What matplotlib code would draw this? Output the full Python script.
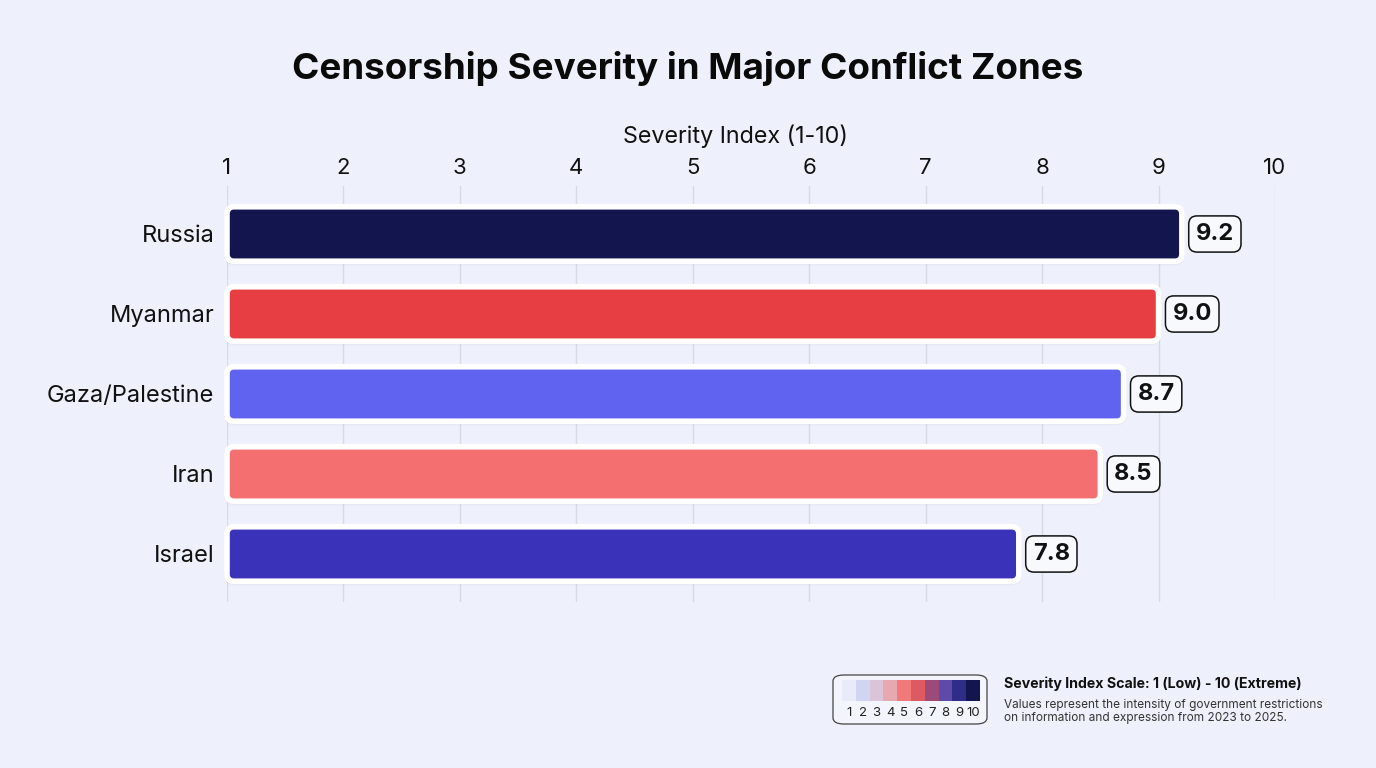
import matplotlib
matplotlib.use("Agg")
import matplotlib.pyplot as plt
from matplotlib.patches import FancyBboxPatch
from matplotlib.colors import to_rgb
import numpy as np

plt.rcParams['font.family'] = ['Inter', 'DejaVu Sans']

countries = ["Russia", "Myanmar", "Gaza/Palestine", "Iran", "Israel"]
values = [9.2, 9.0, 8.7, 8.5, 7.8]
bar_colors = ["#13154F", "#E63E42", "#6062F0", "#F47070", "#3A32B8"]
x_ticks = [1, 2, 3, 4, 5, 6, 7, 8, 9, 10]
scale_levels = [1, 2, 3, 4, 5, 6, 7, 8, 9, 10]
scale_colors = ["#E8ECF8", "#D0D6F2", "#DCC4D8", "#E8A8B0", "#F07A7A",
                "#DD5A62", "#9C4A78", "#5E4AA8", "#2E2E88", "#13154F"]

BG = "#EEF1FB"
W, H = 1376, 768
fig = plt.figure(figsize=(W / 100, H / 100), dpi=100, facecolor=BG)

ax = fig.add_axes([227 / W, 1 - 602 / H, (1275 - 227) / W, 416 / H])
ax.set_facecolor(BG)
ax.set_xlim(1, 10)
ax.set_ylim(len(countries) - 0.4, -0.6)
for s in ax.spines.values():
    s.set_visible(False)
ax.xaxis.tick_top()
ax.xaxis.set_label_position("top")
ax.set_xticks(x_ticks)
ax.set_xticklabels([str(t) for t in x_ticks], fontsize=16, color="#111111")
ax.tick_params(axis="x", length=0, pad=6)
ax.set_xlabel("Severity Index (1-10)", fontsize=16.8, color="#111111")
ax.xaxis.set_label_coords((735 - 227) / (1275 - 227), 1 + (602 - 136) / 416 - 1 + 0.0)
ax.xaxis.label.set_va("center")
ax.set_yticks(range(len(countries)))
ax.set_yticklabels(countries, fontsize=17, color="#111111")
ax.tick_params(axis="y", length=0, pad=9)
ax.grid(axis="x", color="#D6DAE6", linewidth=1.0)
ax.set_axisbelow(True)

fig.canvas.draw()
p0 = ax.transData.transform((1, 0))
p1 = ax.transData.transform((2, 1))
px_x = abs(p1[0] - p0[0])
px_y = abs(p1[1] - p0[1])
aspect = px_x / px_y

bh = 0.68
r = 7 / px_x
for i, (v, c) in enumerate(zip(values, bar_colors)):
    # soft shadow
    for k, a in [(0.06, 0.12), (0.035, 0.2)]:
        sh = FancyBboxPatch((1 - k * 0.4, i - bh / 2 - k * 0.2), v - 1 + k * 0.8, bh + k * 1.1,
                            boxstyle=f"round,pad=0,rounding_size={r * 1.5}",
                            mutation_aspect=aspect, facecolor="#B8BDD6", edgecolor="none",
                            alpha=a, zorder=2, clip_on=False)
        ax.add_patch(sh)
    p = FancyBboxPatch((1, i - bh / 2), v - 1, bh,
                       boxstyle=f"round,pad=0,rounding_size={r}",
                       mutation_aspect=aspect, facecolor=c, edgecolor="white",
                       linewidth=4, zorder=3, clip_on=False)
    ax.add_patch(p)
    ax.text(v + 0.12, i, f"{v:.1f}", fontsize=17, fontweight="bold", color="#111111",
            va="center", ha="left", zorder=4,
            bbox=dict(boxstyle="round,pad=0.3,rounding_size=0.35", facecolor="#F8F9FD",
                      edgecolor="#111111", linewidth=1.1))

fig.text(0.5, 1 - 69 / H, "Censorship Severity in Major Conflict Zones",
         fontsize=26.5, fontweight="bold", ha="center", va="center", color="#0A0A0A")

# Legend box
lb = FancyBboxPatch((833 / W, 1 - 724 / H), (987 - 833) / W, (724 - 675) / H,
                    boxstyle="round,pad=0,rounding_size=0.008",
                    transform=fig.transFigure, facecolor="#F3F5FC",
                    edgecolor="#444444", linewidth=0.9, zorder=0)
fig.patches.append(lb)
sw_ax = fig.add_axes([842 / W, 1 - 701 / H, (980 - 842) / W, 21 / H])
sw_ax.set_zorder(5)
sw_ax.imshow(np.array([[to_rgb(c) for c in scale_colors]]), aspect="auto",
             extent=(0.5, len(scale_levels) + 0.5, 0, 1))
sw_ax.set_axis_off()
for k, lv in enumerate(scale_levels):
    xc = (842 + (k + 0.5) * (980 - 842) / len(scale_levels)) / W
    fig.text(xc, 1 - 713.5 / H, str(lv), fontsize=9.5, ha="center", va="center", color="#222222")

fig.text(1004 / W, 1 - 684 / H, "Severity Index Scale: 1 (Low) - 10 (Extreme)",
         fontsize=10.2, fontweight="bold", ha="left", va="center", color="#111111")
fig.text(1004 / W, 1 - 705 / H, "Values represent the intensity of government restrictions",
         fontsize=8.5, ha="left", va="center", color="#333333")
fig.text(1004 / W, 1 - 718 / H, "on information and expression from 2023 to 2025.",
         fontsize=8.5, ha="left", va="center", color="#333333")

fig.savefig("out.png", dpi=100, facecolor=BG)
